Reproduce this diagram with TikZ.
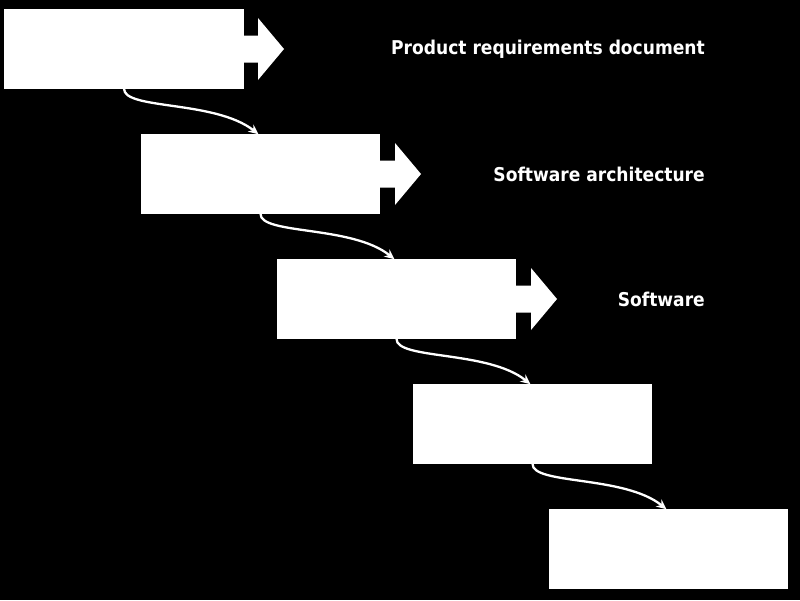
\documentclass[tikz,border=0pt]{standalone}
\usepackage{fontspec}
\setmainfont{DejaVu Sans Condensed}
\usetikzlibrary{arrows.meta}
\begin{document}
\begin{tikzpicture}[x=1pt,y=-1pt,
  stage/.style={fill=white,draw=white,line width=1.5pt,minimum width=238pt,minimum height=78pt,inner sep=0pt},
  flow/.style={draw=white,line width=2.3pt,-{Stealth[length=10pt,width=9pt]}},
  lbl/.style={text=white,font=\bfseries\fontsize{19}{22}\selectfont,anchor=east,inner sep=0pt}]
\fill[black] (0,0) rectangle (800,600);
\useasboundingbox (0,0) rectangle (800,600);
\node[stage] (s1) at (124,49) {};
\node[stage] (s2) at (260.5,174) {};
\node[stage] (s3) at (396.5,299) {};
\node[stage] (s4) at (532.5,424) {};
\node[stage] (s5) at (668.5,549) {};
\foreach \n/\x/\y in {s1/243/49,s2/380/174,s3/516/299}{
  \fill[white] (\x,\y-13.5) -- (\x+15,\y-13.5) -- (\x+15,\y-31) -- (\x+41,\y) -- (\x+15,\y+31) -- (\x+15,\y+13.5) -- (\x,\y+13.5) -- cycle;
}
\draw[flow] (s1.south) .. controls (124,110) and (215,100) .. ([xshift=-2pt]s2.north);
\draw[flow] (s2.south) .. controls (260,235) and (352,225) .. ([xshift=-2pt]s3.north);
\draw[flow] (s3.south) .. controls (396,360) and (488,350) .. ([xshift=-2pt]s4.north);
\draw[flow] (s4.south) .. controls (532,485) and (624,475) .. ([xshift=-2pt]s5.north);
\node[lbl] (t1) at (705,49) {Product requirements document};
\node[lbl] (t2) at (705,174) {Software architecture};
\node[lbl] (t3) at (705,299) {Software};
\end{tikzpicture}
\end{document}
